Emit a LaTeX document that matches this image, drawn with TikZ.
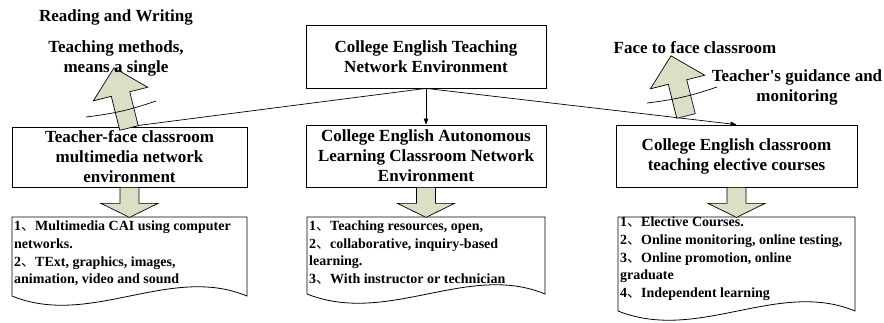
\documentclass[tikz,border=0pt]{standalone}
\usepackage{fontspec}
\newfontfamily\tnr{Liberation Serif}
\newfontfamily\cjk{Noto Sans CJK SC}
\usetikzlibrary{arrows.meta}
\definecolor{blockfill}{RGB}{220,223,198}
\newcommand\mydun{{\cjk\mdseries 、}}
\tikzset{
  boxnode/.style={draw, line width=0.8pt, inner sep=0pt, align=center,
    font=\tnr\bfseries\fontsize{17}{20}\selectfont},
  lbl/.style={inner sep=0pt, align=center, font=\tnr\bfseries\fontsize{17}{20}\selectfont},
  doctext/.style={inner sep=2pt, align=left, anchor=north west,
    font=\tnr\bfseries\fontsize{14}{17.6}\selectfont},
  docshape/.style={draw, line width=0.8pt, fill=white},
  conn/.style={line width=0.7pt},
  tipped/.style={conn, -{Triangle[length=6pt,width=4.5pt]}},
  blockarrow/.style={draw, line width=0.7pt, fill=blockfill},
  crossline/.style={line width=0.7pt},
  downblk/.pic={\draw[blockarrow] (-9.5,0) -- (-9.5,16) -- (-28.5,16) -- (0,30)
      -- (28.5,16) -- (9.5,16) -- (9.5,0) -- cycle;},
  upblk/.pic={\draw[blockarrow] (-9.5,0) -- (-9.5,-35) -- (-28,-35) -- (0,-62)
      -- (28,-35) -- (9.5,-35) -- (9.5,0) -- cycle;}
}
\begin{document}
\begin{tikzpicture}[x=1pt,y=-1pt]
\useasboundingbox (0,0) rectangle (884,323);

% boxes
\node[boxnode, minimum width=240pt, minimum height=63pt] (top) at (426,56.5)
  {College English Teaching\\Network Environment};
\node[boxnode, minimum width=235pt, minimum height=60pt] (lb) at (129.5,157)
  {Teacher-face classroom\\multimedia network\\environment};
\node[boxnode, minimum width=240pt, minimum height=62pt] (mb) at (426,156)
  {College English Autonomous\\Learning Classroom Network\\Environment};
\node[boxnode, minimum width=241pt, minimum height=62pt] (rb) at (736.5,156)
  {College English classroom\\teaching elective courses};

% connectors
\draw[tipped] (top.south) -- (lb.north);
\draw[tipped] (top.south) -- (mb.north);
\draw[tipped] (top.south) -- (rb.north);

% documents
\draw[docshape] (12,217) -- (247,217) -- (247,296)
  .. controls (170,264) and (90,328) .. (12,296) -- cycle;
\draw[docshape] (307,217) -- (545,217) -- (545,294)
  .. controls (468,262) and (388,326) .. (307,294) -- cycle;
\draw[docshape] (618,217) -- (855,217) -- (855,311)
  .. controls (778,279) and (698,343) .. (618,311) -- cycle;

\node[doctext] (ld) at (12,219)
  {1\mydun Multimedia CAI using computer\\networks.\\2\mydun TExt, graphics, images,\\animation, video and sound};
\node[doctext] (md) at (307,218.5)
  {1\mydun Teaching resources, open,\\2\mydun collaborative, inquiry-based\\learning.\\3\mydun With instructor or technician};
\node[doctext] (rd) at (618,215)
  {1\mydun Elective Courses.\\2\mydun Online monitoring, online testing,\\3\mydun Online promotion, online\\graduate\\4\mydun Independent learning};

% down block arrows
\pic at (lb.south) {downblk};
\pic at (mb.south) {downblk};
\pic at (rb.south) {downblk};

% up block arrows
\pic[rotate=14] at (129,128) {upblk};
\pic[rotate=14] at (686,116) {upblk};
\draw[crossline] (86,117) to[bend right=6] (156,101);
\draw[crossline] (647,103) to[bend right=6] (717,87);

% labels
\node[lbl] (l1) at (116,17) {Reading and Writing};
\node[lbl] (l2) at (116,58) {Teaching methods,\\means a single};
\node[lbl] (l3) at (695,48) {Face to face classroom};
\node[lbl] (l4) at (797,87) {Teacher's guidance and\\monitoring};
\end{tikzpicture}
\end{document}
